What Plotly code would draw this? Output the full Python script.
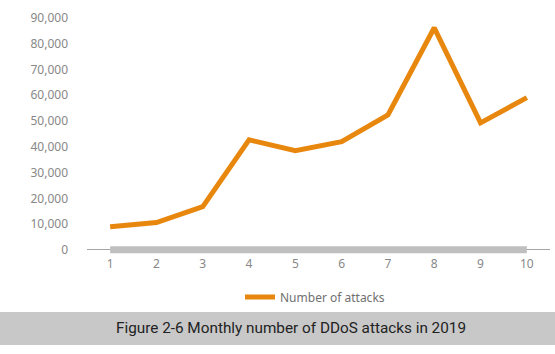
import plotly.graph_objects as go

months = [1, 2, 3, 4, 5, 6, 7, 8, 9, 10]
attacks = [9000, 10600, 16800, 42700, 38500, 42000, 52400, 86200, 49300, 59100]
baseline = [0, 0, 0, 0, 0, 0, 0, 0, 0, 0]
y_ticks = [0, 10000, 20000, 30000, 40000, 50000, 60000, 70000, 80000, 90000]
series_name = "Number of attacks"
caption = "Figure 2-6 Monthly number of DDoS attacks in 2019"

W, H = 555, 354
L, R, T, B = 87, 5, 18, 99
pw, ph = W - L - R, H - T - B

fig = go.Figure()
fig.add_trace(go.Scatter(x=months, y=baseline, mode="lines", showlegend=False,
                         line=dict(color="#bfbfbf", width=7), hoverinfo="skip"))
fig.add_trace(go.Scatter(x=months, y=attacks, mode="lines", name=series_name,
                         line=dict(color="#e8870e", width=5)))

fig.update_layout(
    width=W, height=H, margin=dict(l=L, r=R, t=T, b=B),
    paper_bgcolor="white", plot_bgcolor="white",
    font=dict(family="Noto Sans", size=12, color="#808080"),
    xaxis=dict(range=[0.5, 10.5], tickvals=months, showgrid=False, zeroline=False,
               showline=False, tickfont=dict(size=12, color="#888888")),
    yaxis=dict(range=[-2000, 90000], tickvals=y_ticks, tickformat=",d", showgrid=False,
               zeroline=True, zerolinecolor="#a6a6a6", zerolinewidth=1, showline=False,
               ticklabelstandoff=18, tickfont=dict(size=12, color="#888888")),
    legend=dict(orientation="h", xref="container", yref="container", x=240 / W, y=1 - 297 / H,
                xanchor="left", yanchor="middle", font=dict(size=12, color="#707070")),
    shapes=[dict(type="rect", xref="paper", yref="paper",
                 x0=-L / pw, x1=(W - L) / pw, y0=(T + ph - 312) / ph, y1=(T + ph - 345) / ph,
                 fillcolor="#c8c8c8", line=dict(width=0), layer="below")],
    annotations=[dict(text=caption, xref="paper", yref="paper",
                      x=(291 - L) / pw, y=(T + ph - 328) / ph, xanchor="center", yanchor="middle",
                      showarrow=False, font=dict(family="Roboto", size=15.3, color="#222222"))],
)

fig.write_html("out.html")
